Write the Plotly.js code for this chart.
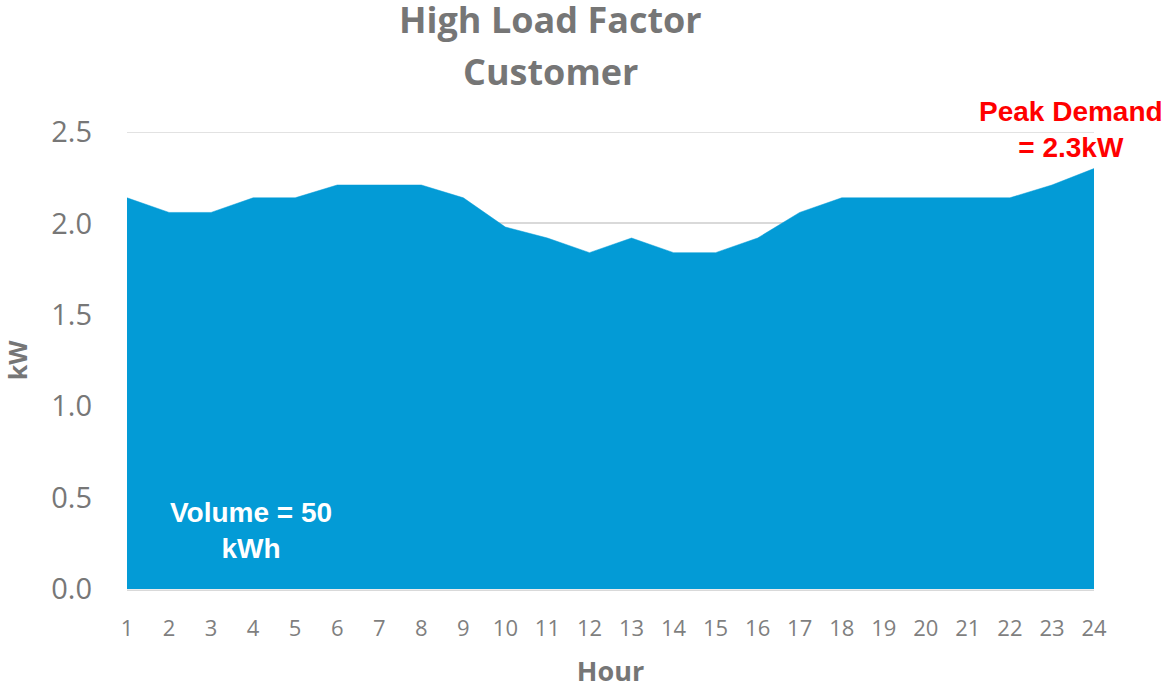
<!DOCTYPE html>
<html>
<head>
<meta charset="utf-8">
<script src="https://cdn.plot.ly/plotly-3.0.1.min.js"></script>
<style>html,body{margin:0;padding:0;background:#fff;}#chart{width:1168px;height:689px;}</style>
</head>
<body>
<div id="chart"></div>
<script>
var hours = [1,2,3,4,5,6,7,8,9,10,11,12,13,14,15,16,17,18,19,20,21,22,23,24];
var demandKW = [2.14,2.06,2.06,2.14,2.14,2.21,2.21,2.21,2.14,1.98,1.92,1.84,1.92,1.84,1.84,1.92,2.06,2.14,2.14,2.14,2.14,2.14,2.21,2.30];
var yTicks = [0,0.5,1.0,1.5,2.0,2.5];
var yTickText = ['0.0','0.5','1.0','1.5','2.0','2.5'];
var titleLines = ['High Load Factor', 'Customer'];
var peakLabel = 'Peak Demand<br>= 2.3kW';
var volumeLabel = 'Volume = 50<br>kWh';

var W = 1168, H = 689, ML = 127, MR = 74, MT = 132, MB = 100;
var plotW = W - ML - MR, plotH = H - MT - MB;
function px(xp) { return (xp - ML) / plotW; }
function py(yp) { return (H - MB - yp) / plotH; }

var trace = {
  x: hours, y: demandKW, type: 'scatter', mode: 'lines',
  fill: 'tozeroy', fillcolor: '#039BD6',
  line: {color: '#039BD6', width: 0.5},
  hoverinfo: 'x+y'
};

var gridColor = '#d9d9d9';
var titleFont = {family: 'Open Sans, sans-serif', size: 36, color: '#767676', weight: 'bold'};
var layout = {
  width: W, height: H,
  margin: {l: ML, r: MR, t: MT, b: MB},
  paper_bgcolor: '#fff', plot_bgcolor: '#fff',
  showlegend: false,
  xaxis: {
    range: [1, 24], tickmode: 'array', tickvals: hours,
    ticks: '', showgrid: false, zeroline: false, showline: false,
    tickfont: {family: 'Open Sans, sans-serif', size: 22, color: '#7f7f7f'},
    ticklabelstandoff: 24,
    title: {text: 'Hour', standoff: 26, font: {family: 'Open Sans, sans-serif', size: 27, color: '#767676', weight: 'bold'}}
  },
  yaxis: {
    range: [0, 2.5], tickmode: 'array', tickvals: yTicks, ticktext: yTickText,
    ticks: '', showgrid: true, gridcolor: gridColor, gridwidth: 1.5,
    zeroline: false, showline: false,
    tickfont: {family: 'Open Sans, sans-serif', size: 29, color: '#777777'},
    ticklabelstandoff: 34,
    title: {text: 'kW', standoff: 30, font: {family: 'Open Sans, sans-serif', size: 25, color: '#767676', weight: 'bold'}}
  },
  shapes: [
    {type: 'line', layer: 'below', xref: 'paper', x0: 0, x1: 1, yref: 'y', y0: yTicks[yTicks.length - 1], y1: yTicks[yTicks.length - 1],
     line: {color: gridColor, width: 1.5}},
    {type: 'line', layer: 'below', xref: 'paper', x0: 0, x1: 1, yref: 'paper', y0: -0.003, y1: -0.003,
     line: {color: gridColor, width: 1.5}}
  ],
  annotations: [
    {text: titleLines[0], x: px(550), xref: 'paper', xanchor: 'center', y: py(20), yref: 'paper', yanchor: 'middle',
     showarrow: false, font: titleFont},
    {text: titleLines[1], x: px(550), xref: 'paper', xanchor: 'center', y: py(71), yref: 'paper', yanchor: 'middle',
     showarrow: false, font: titleFont},
    {text: peakLabel, x: px(1071), xref: 'paper', xanchor: 'center', y: py(129), yref: 'paper', yanchor: 'middle',
     showarrow: false, align: 'center',
     font: {family: 'Liberation Sans, Arial, sans-serif', size: 28, color: '#ff0000', weight: 'bold'}},
    {text: volumeLabel, x: px(251), xref: 'paper', xanchor: 'center', y: py(530), yref: 'paper', yanchor: 'middle',
     showarrow: false, align: 'center',
     font: {family: 'Liberation Sans, Arial, sans-serif', size: 28, color: '#ffffff', weight: 'bold'}}
  ]
};

Plotly.newPlot('chart', [trace], layout, {displayModeBar: false, responsive: false});
</script>
</body>
</html>
